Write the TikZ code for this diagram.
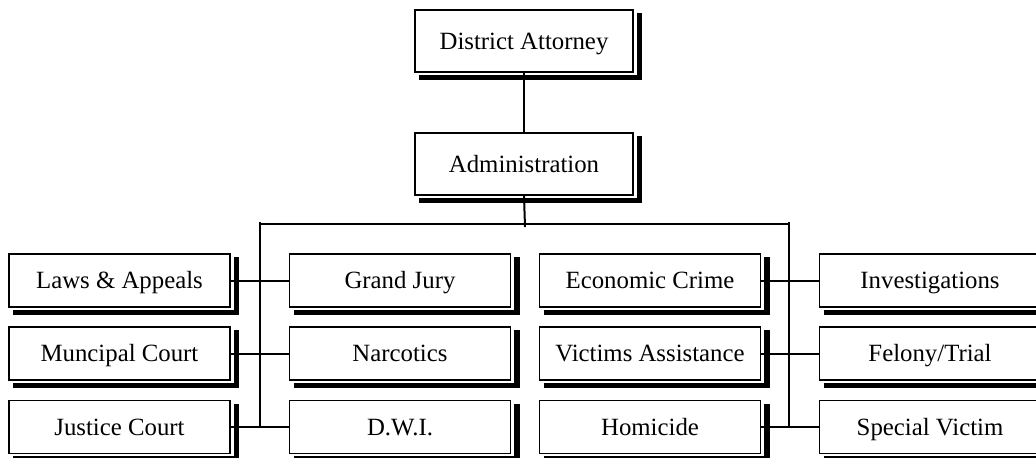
\documentclass[tikz,border=0pt]{standalone}
\usepackage{fontspec}
\setmainfont{Liberation Serif}
\usetikzlibrary{backgrounds}
\begin{document}
\begin{tikzpicture}[x=0.5pt,y=-0.5pt,
  orgbox/.style={draw=black, line width=0.9pt, fill=white, inner sep=0pt,
    minimum width=110.5pt, minimum height=26.5pt,
    text height=8.2pt, text depth=0pt,
    font=\fontsize{12.4pt}{14pt}\selectfont},
  topbox/.style={orgbox, minimum width=109pt, minimum height=31pt},
  link/.style={draw=black, line width=1pt}
]
\useasboundingbox (0,0) rectangle (1036,457);

% top of the chart
\node[topbox] (da)  at (524,41)  {District Attorney};
\node[topbox] (adm) at (524,164) {Administration};

% left block
\node[orgbox] (laws) at (119.5,280.5) {Laws \& Appeals};
\node[orgbox] (muni) at (119.5,353.5) {Muncipal Court};
\node[orgbox] (just) at (119.5,427)   {Justice Court};
\node[orgbox] (gj)   at (400,280.5)   {Grand Jury};
\node[orgbox] (narc) at (400,353.5)   {Narcotics};
\node[orgbox] (dwi)  at (400,427)     {D.W.I.};

% right block
\node[orgbox] (econ) at (650,280.5) {Economic Crime};
\node[orgbox] (vict) at (650,353.5) {Victims Assistance};
\node[orgbox] (homi) at (650,427)   {Homicide};
\node[orgbox] (inv)  at (930,280.5) {Investigations};
\node[orgbox] (fel)  at (930,353.5) {Felony/Trial};
\node[orgbox] (spec) at (930,427)   {Special Victim};

% bus junctions
\coordinate (busl)   at (260,224);
\coordinate (busr)   at (789,224);
\coordinate (busltop) at (260,222);
\coordinate (buslbot) at (260,428);
\coordinate (busrtop) at (789,222);
\coordinate (busrbot) at (789,428);
\coordinate (admbot)  at (525,227);

\begin{scope}[on background layer]
  % connectors
  \draw[link] (da.south) -- (adm.north);
  \draw[link] (adm.south) -- (admbot);
  \draw[link] (busl) -- (busr);
  \draw[link] (busltop) -- (buslbot);
  \draw[link] (busrtop) -- (busrbot);
  \draw[link] (laws.east) -- (gj.west);
  \draw[link] (muni.east) -- (narc.west);
  \draw[link] (just.east) -- (dwi.west);
  \draw[link] (econ.east) -- (inv.west);
  \draw[link] (vict.east) -- (fel.west);
  \draw[link] (homi.east) -- (spec.west);
  % drop shadows: a bar under and a bar right of every box
  \foreach \n in {da,adm,laws,muni,just,gj,narc,dwi,econ,vict,homi,inv,fel,spec}{
    \fill[black] ([xshift=2.5pt,yshift=-1pt]\n.south west) rectangle ([xshift=4.2pt,yshift=-3.7pt]\n.south east);
    \fill[black] ([xshift=1.4pt,yshift=-2pt]\n.north east) rectangle ([xshift=4.2pt,yshift=-3.7pt]\n.south east);
  }
\end{scope}
\end{tikzpicture}
\end{document}
